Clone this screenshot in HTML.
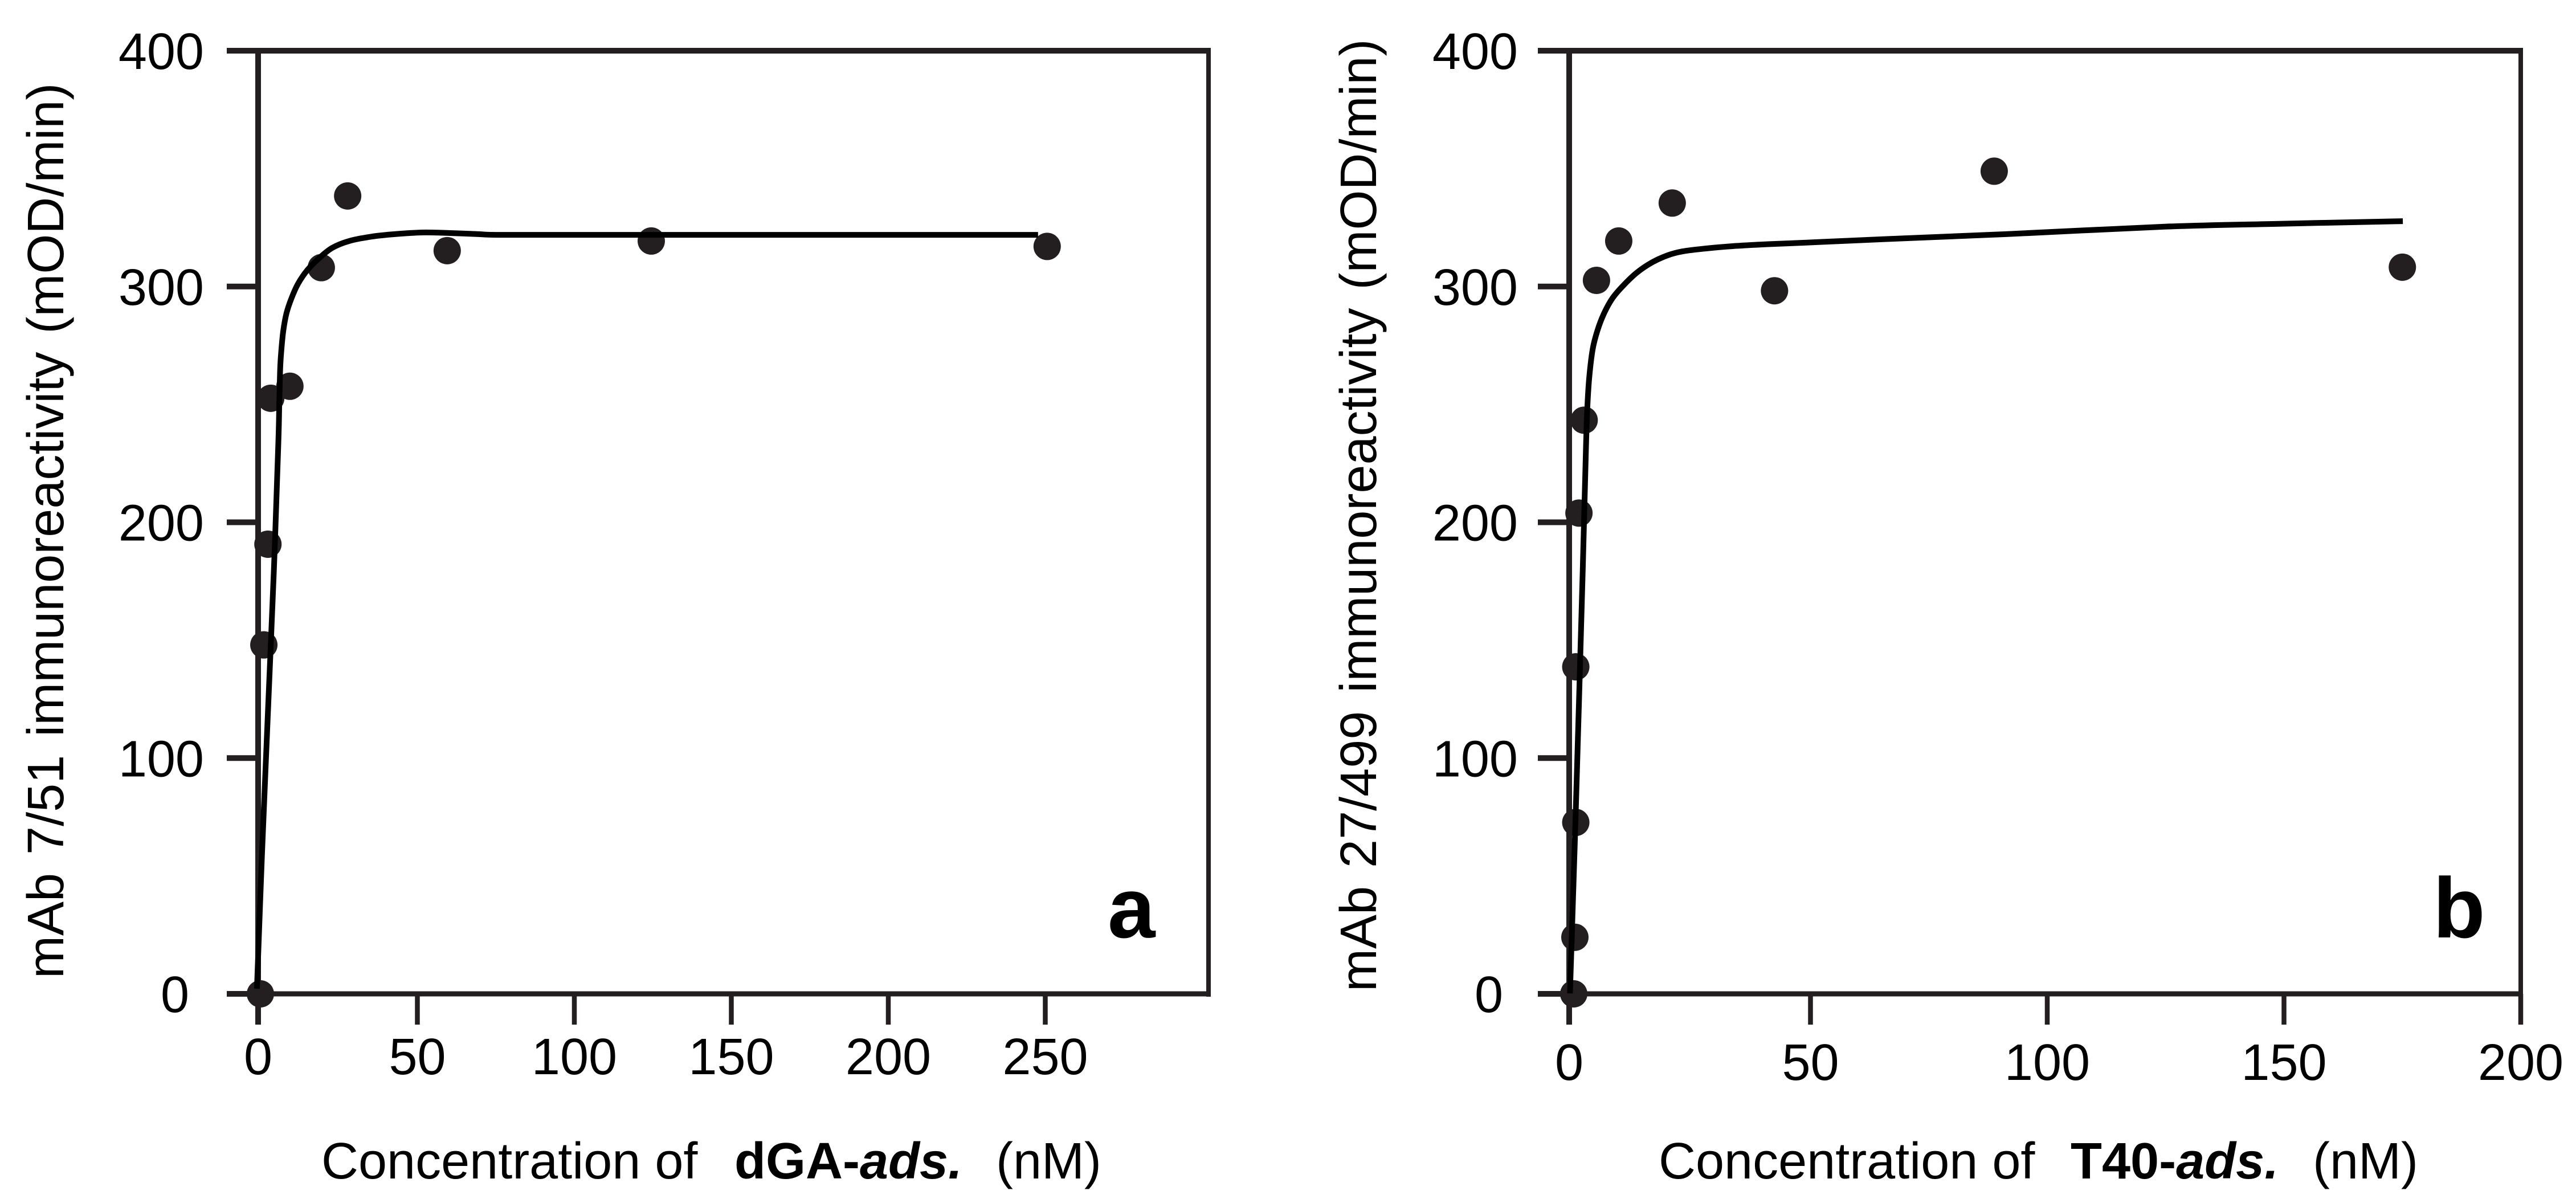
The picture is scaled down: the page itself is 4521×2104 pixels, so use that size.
<!DOCTYPE html>
<html lang="en">
<head>
<meta charset="utf-8">
<title>Immunoreactivity binding curves</title>
<style>
  html, body { margin: 0; padding: 0; background: #ffffff; }
  svg { display: block; }
  text { font-family: "Liberation Sans", Arial, sans-serif; fill: #000000; }
</style>
</head>
<body>
<svg id="figure" xmlns="http://www.w3.org/2000/svg" width="4521" height="2104" viewBox="0 0 4521 2104">
  <rect x="0" y="0" width="4521" height="2104" fill="#ffffff"/>

  <g id="panel-a"></g>
  <g id="panel-b"></g>

  <text transform="translate(111 1717) rotate(-90)" font-size="90" word-spacing="7">mAb 7/51 immunoreactivity (mOD/min)</text>
  <text transform="translate(2415 1740) rotate(-90)" font-size="90" word-spacing="7">mAb 27/499 immunoreactivity (mOD/min)</text>

  <text y="2068" font-size="90"><tspan x="564">Concentration of</tspan><tspan x="1289" font-weight="bold">dGA-</tspan><tspan font-weight="bold" font-style="italic">ads.</tspan><tspan x="1748">(nM)</tspan></text>
  <text y="2068" font-size="90"><tspan x="2911">Concentration of</tspan><tspan x="3634" font-weight="bold">T40-</tspan><tspan font-weight="bold" font-style="italic">ads.</tspan><tspan x="4059">(nM)</tspan></text>

  <text x="1944" y="1645" font-size="150" font-weight="bold">a</text>
  <text x="4270" y="1645" font-size="150" font-weight="bold">b</text>
</svg>

<script>
// Shared y axis values
const yTickValues = [0, 100, 200, 300, 400];
const yTickLabels = ['0', '100', '200', '300', '400'];

// Panel a: dGA-ads.
const aTickValues = [0, 50, 100, 150, 200, 250];
const aTickLabels = ['0', '50', '100', '150', '200', '250'];
const aPointX = [0, 1.1, 2.4, 3.3, 9.4, 19.4, 27.8, 59.5, 124.5, 250.6];
const aPointY = [0, 148, 190.7, 252.6, 257.7, 308, 338.4, 315.2, 319.3, 317];
const aCurveX = [-1.1, 0.5, 2.4, 4.3, 5.7, 6, 6.3, 6.7, 7.3, 8.3, 9.9, 12, 15.1, 18.7, 22.9, 28.3, 35.6, 42.8, 51.4, 59.9, 69.5, 77.5, 116.7, 180.2, 247.7];
const aCurveY = [2.2, 59, 119.4, 179.8, 233, 249.2, 265.1, 273.4, 281.3, 288.6, 295, 301.2, 307.2, 312, 316.4, 319.3, 321.2, 322.2, 322.9, 322.7, 322.2, 321.9, 321.9, 321.9, 321.9];

// Panel b: T40-ads.
const bTickValues = [0, 50, 100, 150, 200];
const bTickLabels = ['0', '50', '100', '150', '200'];
const bPointX = [0, 0.24, 0.43, 0.43, 1.1, 2.2, 4.8, 9.5, 20.8, 42.4, 88.8, 175];
const bPointY = [0, 24, 72.7, 138.7, 203.9, 243.3, 302.6, 319.3, 335.4, 298.2, 348.9, 308.2];
const bCurveX = [-0.8, 0.43, 1.9, 2.6, 2.9, 3.3, 4, 5, 6.4, 8.2, 10.6, 13.4, 16.6, 19.8, 23, 27.8, 33.5, 39.5, 45.5, 64.7, 91.3, 125.1, 149, 175.1];
const bCurveY = [0.2, 77.7, 179.8, 233, 249.9, 262, 273.4, 281.3, 288.6, 295.1, 300.7, 306, 310.3, 313.2, 314.9, 316.1, 317.1, 317.8, 318.3, 320, 322.2, 325.4, 326.6, 327.7];

const SVG_NS = 'http://www.w3.org/2000/svg';
const AXIS_COLOR = '#231f20';

function yScale(v) {
  return 1744 - v * 4.1375;
}

function makePanel(cfg) {
  const g = document.getElementById(cfg.id);
  const xScale = function (v) { return cfg.x0 + v * cfg.slope; };

  function addLine(x1, y1, x2, y2, width, name) {
    const el = document.createElementNS(SVG_NS, 'line');
    el.setAttribute('x1', x1);
    el.setAttribute('y1', y1);
    el.setAttribute('x2', x2);
    el.setAttribute('y2', y2);
    el.setAttribute('stroke', AXIS_COLOR);
    el.setAttribute('stroke-width', width);
    
    
    g.appendChild(el);
  }

  function addText(x, y, anchor, content, name) {
    const el = document.createElementNS(SVG_NS, 'text');
    el.setAttribute('x', x);
    el.setAttribute('y', y);
    el.setAttribute('text-anchor', anchor);
    el.setAttribute('font-size', '90');
    el.textContent = content;
    
    
    g.appendChild(el);
  }

  // Frame
  addLine(cfg.left, yScale(400), cfg.right + 4, yScale(400), 10, 'top-border');
  addLine(cfg.left, yScale(0), cfg.right + 4, yScale(0), 9, 'x-axis-line');
  addLine(cfg.axisX, yScale(400) - 5, cfg.axisX, 1798, 10, 'y-axis-line');
  addLine(cfg.right, yScale(400) - 5, cfg.right, cfg.rightBottom, 8, 'right-border');

  // Y ticks
  yTickValues.forEach(function (v, i) {
    addLine(cfg.left, yScale(v), cfg.axisX, yScale(v), 10, 'y-tick-' + yTickLabels[i]);
    const right = v === 0 ? cfg.yLabelRight - 26 : cfg.yLabelRight;
    addText(right, yScale(v) + 32, 'end', yTickLabels[i], 'y-tick-label-' + yTickLabels[i]);
  });

  // X ticks (the zero tick is the downward extension of the y axis line)
  cfg.xTicks.forEach(function (v, i) {
    if (v !== 0) {
      addLine(xScale(v), yScale(0), xScale(v), 1798, 8.5, 'x-tick-' + cfg.xLabels[i]);
    }
    addText(v === 0 ? cfg.axisX : xScale(v), cfg.xLabelY, 'middle', cfg.xLabels[i], 'x-tick-label-' + cfg.xLabels[i]);
  });

  // Data points
  cfg.pointX.forEach(function (v, i) {
    const c = document.createElementNS(SVG_NS, 'circle');
    c.setAttribute('cx', xScale(v));
    c.setAttribute('cy', yScale(cfg.pointY[i]));
    c.setAttribute('r', '24');
    c.setAttribute('fill', AXIS_COLOR);
    
    
    g.appendChild(c);
  });

  // Fitted curve: Catmull-Rom spline through the read-off points
  const px = cfg.curveX.map(xScale);
  const py = cfg.curveY.map(yScale);
  let d = 'M' + px[0] + ' ' + py[0];
  for (let i = 0; i < px.length - 1; i++) {
    const p0 = Math.max(i - 1, 0);
    const p3 = Math.min(i + 2, px.length - 1);
    const c1x = px[i] + (px[i + 1] - px[p0]) / 6;
    const c1y = py[i] + (py[i + 1] - py[p0]) / 6;
    const c2x = px[i + 1] - (px[p3] - px[i]) / 6;
    const c2y = py[i + 1] - (py[p3] - py[i]) / 6;
    d += ' C' + c1x + ' ' + c1y + ' ' + c2x + ' ' + c2y + ' ' + px[i + 1] + ' ' + py[i + 1];
  }
  const path = document.createElementNS(SVG_NS, 'path');
  path.setAttribute('d', d);
  path.setAttribute('fill', 'none');
  path.setAttribute('stroke', '#000000');
  path.setAttribute('stroke-width', '10');
  
  
  g.appendChild(path);
}

makePanel({
  id: 'panel-a',
  x0: 457, slope: 5.51,
  left: 398, axisX: 453, right: 2121, rightBottom: 1749,
  yLabelRight: 358, xLabelY: 1885,
  xTicks: aTickValues, xLabels: aTickLabels,
  pointX: aPointX, pointY: aPointY,
  curveX: aCurveX, curveY: aCurveY
});

makePanel({
  id: 'panel-b',
  x0: 2762, slope: 8.31,
  left: 2699, axisX: 2754, right: 4424, rightBottom: 1798,
  yLabelRight: 2664, xLabelY: 1895,
  xTicks: bTickValues, xLabels: bTickLabels,
  pointX: bPointX, pointY: bPointY,
  curveX: bCurveX, curveY: bCurveY
});
</script>
</body>
</html>
